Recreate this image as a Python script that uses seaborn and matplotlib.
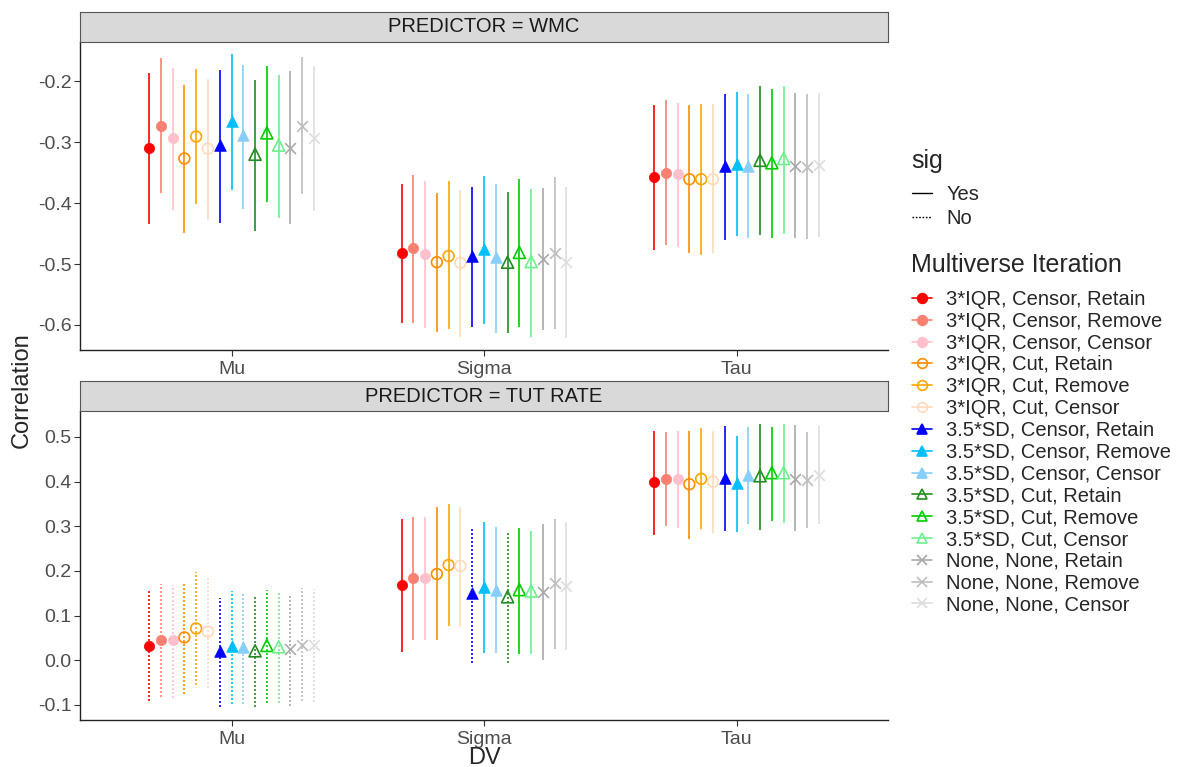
import numpy as np
import pandas as pd
import matplotlib
matplotlib.use("Agg")
import matplotlib.pyplot as plt
from matplotlib.lines import Line2D
import seaborn as sns

# ---- data ----
dvs = ["Mu", "Sigma", "Tau"]
predictors = ["WMC", "TUT RATE"]

iterations = [
    "3*IQR, Censor, Retain", "3*IQR, Censor, Remove", "3*IQR, Censor, Censor",
    "3*IQR, Cut, Retain", "3*IQR, Cut, Remove", "3*IQR, Cut, Censor",
    "3.5*SD, Censor, Retain", "3.5*SD, Censor, Remove", "3.5*SD, Censor, Censor",
    "3.5*SD, Cut, Retain", "3.5*SD, Cut, Remove", "3.5*SD, Cut, Censor",
    "None, None, Retain", "None, None, Remove", "None, None, Censor",
]

# WMC panel: estimate, lower, upper (rows = Mu, Sigma, Tau)
wmc_est = [
    [-0.310, -0.273, -0.294, -0.327, -0.291, -0.311, -0.305, -0.266, -0.289, -0.320, -0.285, -0.305, -0.309, -0.273, -0.294],
    [-0.482, -0.474, -0.484, -0.497, -0.487, -0.498, -0.487, -0.475, -0.489, -0.497, -0.481, -0.496, -0.491, -0.482, -0.497],
    [-0.358, -0.350, -0.353, -0.361, -0.361, -0.361, -0.340, -0.336, -0.339, -0.330, -0.334, -0.327, -0.339, -0.341, -0.338],
]
wmc_lo = [
    [-0.434, -0.383, -0.411, -0.449, -0.402, -0.428, -0.432, -0.379, -0.409, -0.446, -0.398, -0.424, -0.434, -0.386, -0.413],
    [-0.596, -0.596, -0.605, -0.611, -0.607, -0.619, -0.604, -0.598, -0.613, -0.613, -0.603, -0.619, -0.608, -0.607, -0.621],
    [-0.477, -0.469, -0.472, -0.482, -0.485, -0.482, -0.460, -0.454, -0.458, -0.452, -0.457, -0.451, -0.458, -0.459, -0.455],
]
wmc_hi = [
    [-0.187, -0.163, -0.178, -0.207, -0.181, -0.196, -0.182, -0.156, -0.173, -0.198, -0.175, -0.190, -0.184, -0.160, -0.175],
    [-0.369, -0.354, -0.364, -0.384, -0.364, -0.379, -0.373, -0.356, -0.369, -0.382, -0.361, -0.377, -0.375, -0.358, -0.373],
    [-0.240, -0.231, -0.236, -0.239, -0.238, -0.238, -0.222, -0.218, -0.222, -0.208, -0.213, -0.208, -0.219, -0.221, -0.220],
]
wmc_sig = [["Yes"] * 15, ["Yes"] * 15, ["Yes"] * 15]

# TUT RATE panel
tut_est = [
    [0.031, 0.046, 0.045, 0.051, 0.071, 0.064, 0.020, 0.031, 0.029, 0.021, 0.033, 0.030, 0.024, 0.034, 0.034],
    [0.168, 0.185, 0.183, 0.193, 0.213, 0.211, 0.150, 0.163, 0.157, 0.142, 0.158, 0.155, 0.152, 0.172, 0.166],
    [0.398, 0.406, 0.406, 0.394, 0.406, 0.400, 0.409, 0.396, 0.414, 0.413, 0.420, 0.420, 0.406, 0.404, 0.415],
]
tut_lo = [
    [-0.091, -0.082, -0.084, -0.075, -0.056, -0.062, -0.105, -0.099, -0.099, -0.105, -0.097, -0.097, -0.103, -0.091, -0.093],
    [0.019, 0.046, 0.046, 0.045, 0.077, 0.075, -0.006, 0.015, 0.015, -0.007, 0.013, 0.013, 0.001, 0.024, 0.022],
    [0.280, 0.300, 0.297, 0.271, 0.293, 0.285, 0.290, 0.286, 0.304, 0.291, 0.312, 0.308, 0.289, 0.295, 0.305],
]
tut_hi = [
    [0.155, 0.170, 0.168, 0.176, 0.197, 0.188, 0.140, 0.155, 0.151, 0.142, 0.157, 0.153, 0.146, 0.162, 0.159],
    [0.316, 0.321, 0.320, 0.342, 0.349, 0.342, 0.299, 0.309, 0.299, 0.288, 0.297, 0.289, 0.306, 0.317, 0.309],
    [0.514, 0.510, 0.514, 0.514, 0.519, 0.513, 0.525, 0.503, 0.522, 0.529, 0.523, 0.528, 0.527, 0.512, 0.525],
]
tut_sig = [
    ["No"] * 15,
    ["Yes"] * 6 + ["No", "Yes", "Yes", "No"] + ["Yes"] * 5,
    ["Yes"] * 15,
]

# ---- styles ----
iter_colors = ["#FF0000", "#FA8072", "#FFC0CB", "#FF8C00", "#FFA500", "#FFDAB9",
               "#0000FF", "#00BFFF", "#87CEFA", "#228B22", "#00CD00", "#6CF08C",
               "#A9A9A9", "#BEBEBE", "#DDDDDD"]
iter_markers = ["o"] * 6 + ["^"] * 6 + ["x"] * 3
iter_filled = [True, True, True, False, False, False,
               True, True, True, False, False, False,
               False, False, False]

# ---- long table ----
rows = []
for pred, est, lo, hi, sig in [("WMC", wmc_est, wmc_lo, wmc_hi, wmc_sig),
                               ("TUT RATE", tut_est, tut_lo, tut_hi, tut_sig)]:
    for d, dv in enumerate(dvs):
        for i, it in enumerate(iterations):
            rows.append(dict(predictor=pred, DV=dv, iteration=it, idx=i,
                             x=d + (i - 7) * 0.7 / 15,
                             est=est[d][i], lo=lo[d][i], hi=hi[d][i], sig=sig[d][i]))
df = pd.DataFrame(rows)

sns.set_theme(style="white")
plt.rcParams["font.family"] = ["Liberation Sans", "DejaVu Sans"]
plt.rcParams["axes.unicode_minus"] = False

W, H = 1177, 767
fig = plt.figure(figsize=(W / 100, H / 100), dpi=100)

def fx(px):
    return px / W

def fy(py):
    return 1 - py / H

panels = [
    dict(pred="WMC", top=42, bot=350, strip_top=12, ylim=(-0.641, -0.136),
         ticks=[-0.6, -0.5, -0.4, -0.3, -0.2]),
    dict(pred="TUT RATE", top=411, bot=720, strip_top=381, ylim=(-0.134, 0.558),
         ticks=[-0.1, 0.0, 0.1, 0.2, 0.3, 0.4, 0.5]),
]
left, right = 80, 888
dotted = (0, (1.2, 1.2))

for p in panels:
    ax = fig.add_axes([fx(left), fy(p["bot"]), fx(right - left), (p["bot"] - p["top"]) / H])
    sub = df[df.predictor == p["pred"]]
    for _, r in sub.iterrows():
        ls = "-" if r.sig == "Yes" else dotted
        ax.vlines(r.x, r.lo, r.hi, color=iter_colors[r.idx], linestyles=ls, lw=1.2)
    for i, it in enumerate(iterations):
        d = sub[sub.iteration == it]
        c = iter_colors[i]
        m = iter_markers[i]
        if m == "x":
            ax.scatter(d.x, d.est, marker="x", color=c, s=60, linewidths=1.2, zorder=3)
        elif iter_filled[i]:
            sns.scatterplot(data=d, x="x", y="est", ax=ax, marker=m, color=c,
                            edgecolor=c, s=55 if m == "o" else 70, linewidth=0.5, zorder=3)
        else:
            ax.scatter(d.x, d.est, marker=m, facecolors="none", edgecolors=c,
                       s=60 if m == "o" else 75, linewidths=1.2, zorder=3)
    ax.set_xlim(-0.6, 2.6)
    ax.set_ylim(*p["ylim"])
    ax.set_xticks(range(3))
    ax.set_xticklabels(dvs)
    ax.set_yticks(p["ticks"])
    ax.set_yticklabels([f"{t:.1f}" for t in p["ticks"]])
    ax.set_xlabel("")
    ax.set_ylabel("")
    for s in ["top", "right"]:
        ax.spines[s].set_visible(False)
    for s in ["left", "bottom"]:
        ax.spines[s].set_color("#222222")
        ax.spines[s].set_linewidth(1.0)
    ax.tick_params(axis="both", which="both", length=4, width=0.8, color="#333333",
                   labelsize=14, labelcolor="#4D4D4D", left=True, bottom=True, pad=2)
    ax.tick_params(axis="x", pad=4)
    ax.grid(False)

    sax = fig.add_axes([fx(left), fy(p["top"]), fx(right - left), (p["top"] - p["strip_top"]) / H])
    sax.set_facecolor("#D9D9D9")
    sax.set_xticks([])
    sax.set_yticks([])
    for s in sax.spines.values():
        s.set_visible(True)
        s.set_color("#555555")
        s.set_linewidth(0.8)
    sax.text(0.5, 0.5, f"PREDICTOR = {p['pred']}", ha="center", va="center",
             fontsize=14.5, color="#1A1A1A", transform=sax.transAxes)

fig.text(fx(484), fy(758), "DV", ha="center", va="center", fontsize=17)
fig.text(fx(22), fy(390), "Correlation", ha="center", va="center", rotation=90, fontsize=17)

# ---- legends ----
fig.text(fx(911), fy(161), "sig", ha="left", va="center", fontsize=18)
sig_handles = [Line2D([0], [0], color="black", lw=1.0, ls="-"),
               Line2D([0], [0], color="black", lw=1.0, ls=dotted)]
leg1 = fig.legend(sig_handles, ["Yes", "No"], loc="upper left",
                  bbox_to_anchor=(fx(912), fy(185)), frameon=False, fontsize=14.5,
                  handlelength=1.0, labelspacing=0.27, borderpad=0,
                  borderaxespad=0, handletextpad=0.7)

fig.text(fx(911), fy(265), "Multiverse Iteration", ha="left", va="center", fontsize=18)
iter_handles = []
for i in range(15):
    c = iter_colors[i]
    iter_handles.append(Line2D([0], [0], color=c, lw=1.2, marker=iter_markers[i],
                               markersize=7,
                               markerfacecolor=c if iter_filled[i] else "none",
                               markeredgecolor=c, markeredgewidth=1.2))
leg2 = fig.legend(iter_handles, iterations, loc="upper left",
                  bbox_to_anchor=(fx(912), fy(290)), frameon=False, fontsize=14.5,
                  handlelength=1.0, labelspacing=0.14, borderpad=0,
                  borderaxespad=0, handletextpad=0.7)

fig.savefig("out.png", dpi=100)
